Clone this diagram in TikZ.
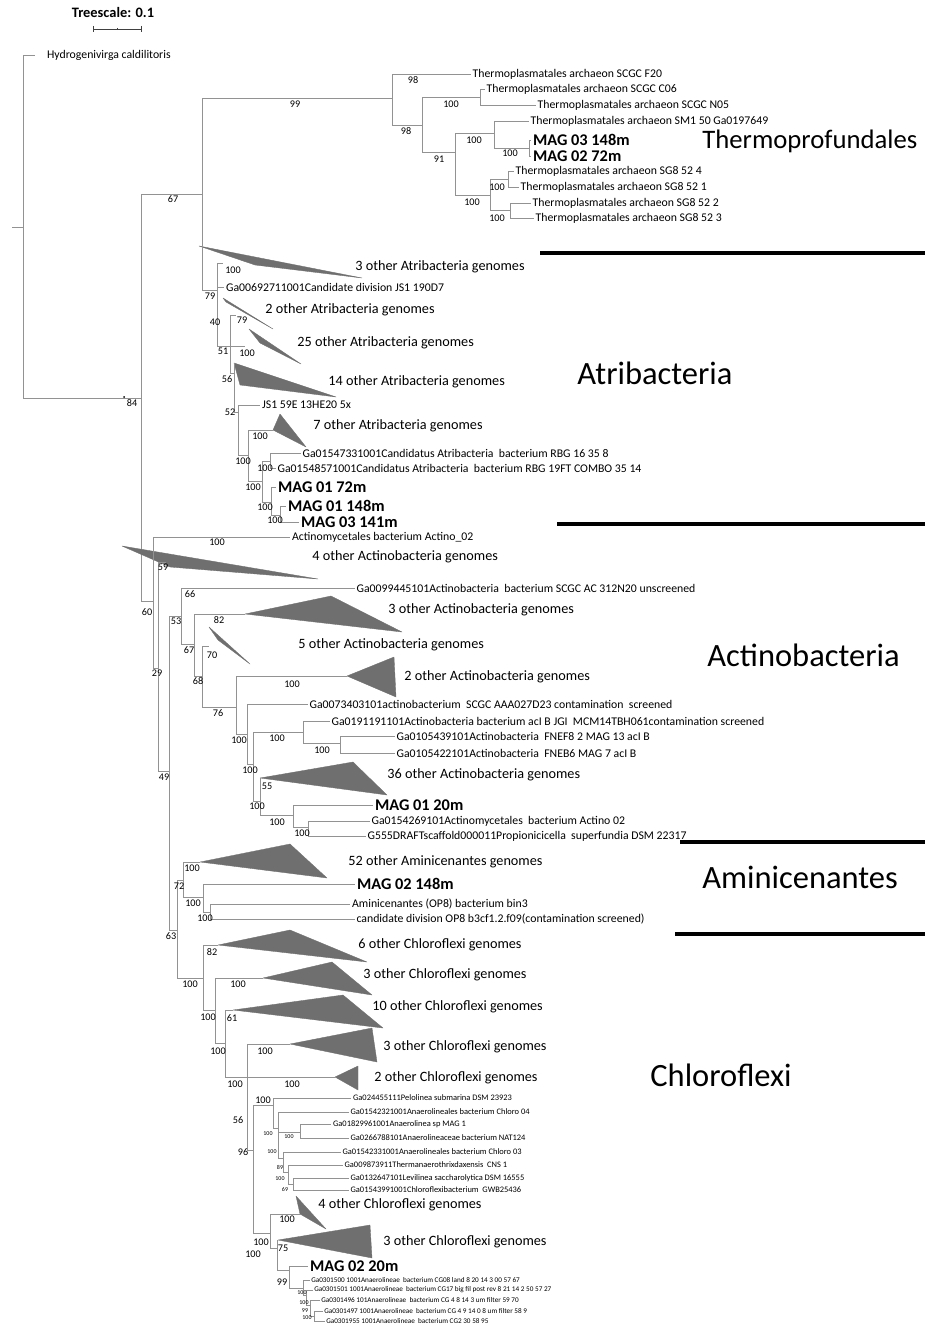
\documentclass[tikz,border=0pt]{standalone}
\usepackage{fontspec}
\setmainfont{Carlito}
\usetikzlibrary{positioning}
\definecolor{treeline}{HTML}{929292}
\definecolor{cladefill}{HTML}{6F6F6F}
\begin{document}
\begin{tikzpicture}[
    x=0.02cm, y=-0.02cm,
    branch/.style={draw=treeline, line width=0.45pt},
    clade/.style={fill=cladefill, draw=cladefill, line width=0.2pt, line join=round},
    boot/.style={font=\fontsize{5.8}{6}\selectfont, inner sep=0pt},
    tboot/.style={font=\fontsize{3.4}{4}\selectfont, inner sep=0pt},
    leaf/.style={anchor=west, inner sep=1pt, font=\fontsize{6.7}{7}\selectfont},
    sleaf/.style={anchor=west, inner sep=1pt, font=\fontsize{4.8}{5}\selectfont},
    tleaf/.style={anchor=west, inner sep=0.8pt, font=\fontsize{4.1}{5}\selectfont},
    mag/.style={anchor=west, inner sep=1pt, font=\fontsize{9.3}{10}\selectfont\bfseries},
    grp/.style={anchor=west, inner sep=0pt, font=\fontsize{8.1}{9}\selectfont},
    phylum/.style={anchor=west, inner sep=0pt, font=\fontsize{18.5}{19}\selectfont},
    sepbar/.style={line width=2.4pt, black}
]
\useasboundingbox (0,0) rectangle (925,1327);

% Tree scale
\node[font=\fontsize{8.2}{9}\selectfont\bfseries, inner sep=0pt] (tscale) at (113,13) {Treescale: 0.1};
\draw[black!75, line width=0.5pt] (93,29) -- (141,29);
\foreach \tx in {93,141} {
    \draw[black!75, line width=0.5pt] (\tx,26) -- (\tx,32);
}
\draw[black!75, line width=0.4pt] (117,28) -- (117,30);

% Root and outgroup
\coordinate (root) at (23,227);
\coordinate (rootstub) at (12,227);
\coordinate (hydro) at (35,55);
\node[leaf] (tHydro) at (45,55) {Hydrogenivirga caldilitoris};
\draw[branch] (rootstub) -- (root);
\draw[branch] (root) |- (hydro);
\coordinate (n84) at (141,398);
\draw[branch] (root) |- (n84);
\fill (124,397) circle (1);

% Main spine
\coordinate (n67) at (202,194);
\coordinate (n60) at (153,601);
\draw[branch] (n84) |- (n67);
\draw[branch] (n84) |- (n60);

% Thermoprofundales
\coordinate (n99) at (392,98);
\coordinate (n98) at (422,125);
\coordinate (nC) at (480,97);
\coordinate (n91) at (455,152);
\coordinate (nE) at (494,133);
\coordinate (nG) at (529,148);
\coordinate (nH) at (490,195);
\coordinate (nI) at (508,179);
\coordinate (nJ) at (510,210);
\node[leaf] (tF20) at (470.5,74) {Thermoplasmatales archaeon SCGC F20};
\node[leaf] (tC06) at (484.5,89) {Thermoplasmatales archaeon SCGC C06};
\node[leaf] (tN05) at (535.5,105) {Thermoplasmatales archaeon SCGC N05};
\node[leaf] (tSM1) at (528.5,121) {Thermoplasmatales archaeon SM1 50 Ga0197649};
\node[mag] (tM03148) at (531,140) {MAG 03 148m};
\node[mag] (tM0272) at (531,156) {MAG 02 72m};
\node[leaf] (t524) at (513.5,171) {Thermoplasmatales archaeon SG8 52 4};
\node[leaf] (t521) at (518.5,187) {Thermoplasmatales archaeon SG8 52 1};
\node[leaf] (t522) at (530.5,203) {Thermoplasmatales archaeon SG8 52 2};
\node[leaf] (t523) at (533.5,218) {Thermoplasmatales archaeon SG8 52 3};
\draw[branch] (n67) |- (n99);
\draw[branch] (n99) |- (tF20.west);
\draw[branch] (n99) |- (n98);
\draw[branch] (n98) |- (nC);
\draw[branch] (nC) |- (tC06.west);
\draw[branch] (nC) |- (tN05.west);
\draw[branch] (n98) |- (n91);
\draw[branch] (n91) |- (nE);
\draw[branch] (nE) |- (tSM1.west);
\draw[branch] (nE) |- (nG);
\draw[branch] (nG) |- (tM03148.west);
\draw[branch] (nG) |- (tM0272.west);
\draw[branch] (n91) |- (nH);
\draw[branch] (nH) |- (nI);
\draw[branch] (nI) |- (t524.west);
\draw[branch] (nI) |- (t521.west);
\draw[branch] (nH) |- (nJ);
\draw[branch] (nJ) |- (t522.west);
\draw[branch] (nJ) |- (t523.west);
\foreach \bx/\by/\bv [count=\i] in {413/80/98, 295/104/99, 406/131/98, 451/104/100,
    439/159/91, 474/140/100, 510/153/100, 472/202/100, 497/187/100, 497/218/100, 173/199/67} {
    \node[boot] (bt\i) at (\bx,\by) {\bv};
}

% Atribacteria
\coordinate (n79a) at (217,290);
\coordinate (s100) at (223,263);
\coordinate (n51) at (230,346);
\coordinate (s79) at (236,315);
\coordinate (c25) at (245,346);
\coordinate (n56) at (234,373);
\coordinate (a14) at (234,363);
\coordinate (n52) at (238,412);
\coordinate (n100x) at (248,455);
\coordinate (a7) at (273,430);
\coordinate (n100y) at (262,481);
\coordinate (n100z) at (270,461);
\coordinate (n100w) at (271,502);
\coordinate (n100v) at (280,515);
\node[leaf] (tJS190) at (224,287) {Ga00692711001Candidate division JS1 190D7};
\node[leaf] (tJS1) at (260,405) {JS1 59E 13HE20 5x};
\node[leaf] (tG1547) at (300.5,453) {Ga01547331001Candidatus Atribacteria\ \ bacterium RBG 16 35 8};
\node[leaf] (tG1548) at (275.5,468) {Ga01548571001Candidatus Atribacteria\ \ bacterium RBG 19FT COMBO 35 14};
\node[mag] (tM0172) at (276,487) {MAG 01 72m};
\node[mag] (tM01148) at (286,506) {MAG 01 148m};
\node[mag] (tM03141) at (299,522) {MAG 03 141m};
\fill[clade] (199,246) -- (362,278) -- (255,265) -- cycle;
\fill[clade] (223,298) -- (273,329) -- (226,302) -- cycle;
\fill[clade] (249,329) -- (301,364) -- (260,343) -- cycle;
\fill[clade] (a14) -- (336,397) -- (240,385) -- cycle;
\fill[clade] (a7) -- (280,414) -- (306,447) -- cycle;
\node[grp] (gA3) at (355,267) {3 other Atribacteria genomes};
\node[grp] (gA2) at (265,310) {2 other Atribacteria genomes};
\node[grp] (gA25) at (297,343) {25 other Atribacteria genomes};
\node[grp] (gA14) at (328,382) {14 other Atribacteria genomes};
\node[grp] (gA7) at (313,426) {7 other Atribacteria genomes};
\draw[branch] (n67) |- (n79a);
\draw[branch] (n79a) |- (s100);
\draw[branch] (n79a) |- (tJS190.west);
\draw[branch] (n79a) |- (n51);
\draw[branch] (n51) |- (s79);
\draw[branch] (n51) -- (c25);
\draw[branch] (n51) |- (n56);
\draw[branch] (n56) |- (a14);
\draw[branch] (n56) |- (n52);
\draw[branch] (n52) |- (tJS1.west);
\draw[branch] (n52) |- (n100x);
\draw[branch] (n100x) |- (a7);
\draw[branch] (n100x) |- (n100y);
\draw[branch] (n100y) |- (n100z);
\draw[branch] (n100z) |- (tG1547.west);
\draw[branch] (n100z) |- (tG1548.west);
\draw[branch] (n100y) |- (n100w);
\draw[branch] (n100w) |- (tM0172.west);
\draw[branch] (n100w) |- (n100v);
\draw[branch] (n100v) |- (tM01148.west);
\draw[branch] (n100v) |- (tM03141.west);
\foreach \bx/\by/\bv [count=\i] in {233/270/100, 210/296/79, 215/322/40, 242/320/79,
    223/351/51, 247/353/100, 227/379/56, 230/412/52, 260/436/100, 243/461/100,
    265/468/100, 253/487/100, 265/507/100, 275/520/100, 132/403/84} {
    \node[boot] (ba\i) at (\bx,\by) {\bv};
}

% Actinobacteria
\coordinate (n29) at (158,668);
\coordinate (s59) at (166,562);
\coordinate (n49) at (169,771);
\coordinate (n53) at (181,616);
\coordinate (n67b) at (194,644);
\coordinate (a82) at (245,614);
\coordinate (n68) at (202,676);
\coordinate (a70) at (209,646);
\coordinate (n76) at (236,707);
\coordinate (a2) at (347,676);
\coordinate (n100a) at (247,734);
\coordinate (n100b) at (253,764);
\coordinate (n100c) at (303,732);
\coordinate (n100e) at (340,743);
\coordinate (n100d) at (260,801);
\coordinate (a36) at (260,778);
\coordinate (n100f) at (293,815);
\coordinate (n100g) at (308,827);
\node[leaf] (tA02) at (290,537) {Actinomycetales bacterium Actino\_02};
\node[leaf] (tG0099) at (354.5,588) {Ga0099445101Actinobacteria\ \ bacterium SCGC AC 312N20 unscreened};
\node[leaf] (tG0073) at (307.5,704) {Ga0073403101actinobacterium\ \ SCGC AAA027D23 contamination\ \ screened};
\node[leaf] (tG0191) at (329.5,721) {Ga0191191101Actinobacteria bacterium acI B JGI\ \ MCM14TBH061contamination screened};
\node[leaf] (tG0105a) at (394.5,736) {Ga0105439101Actinobacteria\ \ FNEF8 2 MAG 13 acI B};
\node[leaf] (tG0105b) at (394.5,753) {Ga0105422101Actinobacteria\ \ FNEB6 MAG 7 acI B};
\node[mag] (tM0120) at (373,805) {MAG 01 20m};
\node[leaf] (tG0154) at (369.5,821) {Ga0154269101Actinomycetales\ \ bacterium Actino 02};
\node[leaf] (tG555) at (365.5,836) {G555DRAFTscaffold000011Propionicicella\ \ superfundia DSM 22317};
\fill[clade] (122,546) -- (318,579) -- (170,567) -- cycle;
\fill[clade] (a82) -- (331,596) -- (402,632) -- cycle;
\fill[clade] (209,627) -- (250,664) -- (218,640) -- cycle;
\fill[clade] (a2) -- (394,657) -- (396,697) -- cycle;
\fill[clade] (a36) -- (353,762) -- (387,795) -- cycle;
\node[grp] (gB4) at (312,557) {4 other Actinobacteria genomes};
\node[grp] (gB3) at (388,610) {3 other Actinobacteria genomes};
\node[grp] (gB5) at (298,645) {5 other Actinobacteria genomes};
\node[grp] (gB2) at (404,677) {2 other Actinobacteria genomes};
\node[grp] (gB36) at (387,775) {36 other Actinobacteria genomes};
\draw[branch] (n60) |- (tA02.west);
\draw[branch] (n60) |- (n29);
\draw[branch] (n29) |- (s59);
\draw[branch] (n29) |- (n49);
\draw[branch] (n49) |- (n53);
\draw[branch] (n53) |- (tG0099.west);
\draw[branch] (n53) |- (n67b);
\draw[branch] (n67b) |- (a82);
\draw[branch] (n67b) |- (n68);
\draw[branch] (n68) |- (a70);
\draw[branch] (n68) |- (n76);
\draw[branch] (n76) |- (a2);
\draw[branch] (n76) |- (n100a);
\draw[branch] (n100a) |- (tG0073.west);
\draw[branch] (n100a) |- (n100b);
\draw[branch] (n100b) |- (n100c);
\draw[branch] (n100c) |- (tG0191.west);
\draw[branch] (n100c) |- (n100e);
\draw[branch] (n100e) |- (tG0105a.west);
\draw[branch] (n100e) |- (tG0105b.west);
\draw[branch] (n100b) |- (n100d);
\draw[branch] (n100d) |- (a36);
\draw[branch] (n100d) |- (n100f);
\draw[branch] (n100f) |- (tM0120.west);
\draw[branch] (n100f) |- (n100g);
\draw[branch] (n100g) |- (tG0154.west);
\draw[branch] (n100g) |- (tG555.west);
\foreach \bx/\by/\bv [count=\i] in {217/542/100, 163/567/59, 147/612/60, 190/594/66,
    176/621/53, 219/620/82, 189/650/67, 212/655/70, 157/673/29, 198/681/68,
    218/713/76, 292/684/100, 164/777/49, 239/740/100, 250/770/100, 277/738/100,
    322/750/100, 257/806/100, 267/786/55, 277/822/100, 302/833/100} {
    \node[boot] (bc\i) at (\bx,\by) {\bv};
}

% Aminicenantes
\coordinate (n63) at (177,930);
\coordinate (n72) at (183,880);
\coordinate (a52) at (200,862);
\coordinate (n100am) at (203,897);
\coordinate (n100op) at (210,912);
\node[mag] (tM02148) at (355,884) {MAG 02 148m};
\node[leaf] (tOP8bin) at (350,904) {Aminicenantes (OP8) bacterium bin3};
\node[leaf] (tOP8) at (354.5,919) {candidate division OP8 b3cf1.2.f09(contamination screened)};
\fill[clade] (a52) -- (290,844) -- (327,878) -- cycle;
\node[grp] (gC52) at (348,862) {52 other Aminicenantes genomes};
\draw[branch] (n49) |- (n63);
\draw[branch] (n63) |- (n72);
\draw[branch] (n72) |- (a52);
\draw[branch] (n72) |- (n100am);
\draw[branch] (n100am) |- (tM02148.west);
\draw[branch] (n100am) |- (n100op);
\draw[branch] (n100op) |- (tOP8bin.west);
\draw[branch] (n100op) |- (tOP8.west);
\foreach \bx/\by/\bv [count=\i] in {171/936/63, 179/886/72, 192/868/100, 193/903/100, 205/918/100} {
    \node[boot] (bd\i) at (\bx,\by) {\bv};
}

% Chloroflexi
\coordinate (n100c1) at (203,978);
\coordinate (a6) at (218,945);
\coordinate (n100c2) at (215,1010);
\coordinate (a3a) at (263,978);
\coordinate (n100c3) at (225,1043);
\coordinate (a10) at (233,1010);
\coordinate (n100c4) at (247,1077);
\coordinate (a3b) at (290,1044);
\coordinate (a2c) at (335,1077);
\coordinate (n96) at (253,1150);
\coordinate (n100p) at (273,1105);
\coordinate (nq) at (278,1128);
\coordinate (nr) at (300,1132);
\coordinate (ns) at (283,1158);
\coordinate (nt) at (288,1172);
\coordinate (nu) at (293,1184);
\coordinate (nbot) at (270,1233);
\coordinate (a4) at (300,1214);
\coordinate (n75) at (277,1248);
\coordinate (a3c) at (278,1240);
\coordinate (nm99) at (289,1270);
\coordinate (nb1) at (303,1288);
\coordinate (nb2) at (306,1295);
\coordinate (nb3) at (310,1305);
\coordinate (nb4) at (314,1316);
\node[sleaf] (tPel) at (351,1098) {Ga024455111Pelolinea submarina DSM 23923};
\node[sleaf] (tC04) at (348.5,1112) {Ga01542321001Anaerolineales bacterium Chloro 04};
\node[sleaf] (tMAG1) at (331,1124) {Ga01829961001Anaerolinea sp MAG 1};
\node[sleaf] (tNAT) at (348.5,1138) {Ga0266788101Anaerolineaceae bacterium NAT124};
\node[sleaf] (tC03) at (340.5,1152) {Ga01542331001Anaerolineales bacterium Chloro 03};
\node[sleaf] (tTherm) at (342.5,1165) {Ga009873911Thermanaerothrixdaxensis\ \ CNS 1};
\node[sleaf] (tLev) at (348.5,1178) {Ga0132647101Levilinea saccharolytica DSM 16555};
\node[sleaf] (tGWB) at (348.5,1190) {Ga01543991001Chloroflexibacterium\ \ GWB25436};
\node[mag] (tM0220) at (308,1266) {MAG 02 20m};
\node[tleaf] (tL1) at (309.5,1280) {Ga0301500 1001Anaerolineae\ \ bacterium CG08 land 8 20 14 3 00 57 67};
\node[tleaf] (tL2) at (312.5,1290) {Ga0301501 1001Anaerolineae\ \ bacterium CG17 big fil post rev 8 21 14 2 50 57 27};
\node[tleaf] (tL3) at (319.5,1300) {Ga0301496 101Anaerolineae\ \ bacterium CG 4 8 14 3 um filter 59 70};
\node[tleaf] (tL4) at (322.5,1311) {Ga0301497 1001Anaerolineae\ \ bacterium CG 4 9 14 0 8 um filter 58 9};
\node[tleaf] (tL5) at (324.5,1321) {Ga0301955 1001Anaerolineae\ \ bacterium CG2 30 58 95};
\fill[clade] (a6) -- (290,930) -- (367,962) -- cycle;
\fill[clade] (a3a) -- (332,962) -- (372,995) -- cycle;
\fill[clade] (a10) -- (343,995) -- (383,1028) -- cycle;
\fill[clade] (a3b) -- (372,1028) -- (377,1062) -- cycle;
\fill[clade] (a2c) -- (358,1066) -- (358,1090) -- cycle;
\fill[clade] (296,1196) -- (326,1229) -- (a4) -- cycle;
\fill[clade] (a3c) -- (370,1225) -- (372,1258) -- cycle;
\node[grp] (gD6) at (358,945) {6 other Chloroflexi genomes};
\node[grp] (gD3a) at (363,975) {3 other Chloroflexi genomes};
\node[grp] (gD10) at (372,1007) {10 other Chloroflexi genomes};
\node[grp] (gD3b) at (383,1047) {3 other Chloroflexi genomes};
\node[grp] (gD2) at (374,1078) {2 other Chloroflexi genomes};
\node[grp] (gD4) at (318,1205) {4 other Chloroflexi genomes};
\node[grp] (gD3c) at (383,1242) {3 other Chloroflexi genomes};
\draw[branch] (n63) |- (n100c1);
\draw[branch] (n100c1) |- (a6);
\draw[branch] (n100c1) |- (n100c2);
\draw[branch] (n100c2) |- (a3a);
\draw[branch] (n100c2) |- (n100c3);
\draw[branch] (n100c3) |- (a10);
\draw[branch] (n100c3) |- (n100c4);
\draw[branch] (n100c4) |- (a3b);
\draw[branch] (n100c4) |- (a2c);
\draw[branch] (n100c4) |- (n96);
\draw[branch] (n96) |- (n100p);
\draw[branch] (n100p) |- (tPel.west);
\draw[branch] (n100p) |- (nq);
\draw[branch] (nq) |- (tC04.west);
\draw[branch] (nq) |- (nr);
\draw[branch] (nr) |- (tMAG1.west);
\draw[branch] (nr) |- (tNAT.west);
\draw[branch] (nq) |- (ns);
\draw[branch] (ns) |- (tC03.west);
\draw[branch] (ns) |- (nt);
\draw[branch] (nt) |- (tTherm.west);
\draw[branch] (nt) |- (nu);
\draw[branch] (nu) |- (tLev.west);
\draw[branch] (nu) |- (tGWB.west);
\draw[branch] (n96) |- (nbot);
\draw[branch] (nbot) |- (a4);
\draw[branch] (nbot) |- (n75);
\draw[branch] (n75) |- (a3c);
\draw[branch] (n75) |- (nm99);
\draw[branch] (nm99) |- (tM0220.west);
\draw[branch] (nm99) |- (nb1);
\draw[branch] (nb1) |- (tL1.west);
\draw[branch] (nb1) |- (nb2);
\draw[branch] (nb2) |- (tL2.west);
\draw[branch] (nb2) |- (nb3);
\draw[branch] (nb3) |- (tL3.west);
\draw[branch] (nb3) |- (nb4);
\draw[branch] (nb4) |- (tL4.west);
\draw[branch] (nb4) |- (tL5.west);
\foreach \bx/\by/\bv [count=\i] in {190/984/100, 212/952/82, 208/1017/100, 238/984/100,
    218/1051/100, 232/1018/61, 235/1084/100, 265/1051/100, 292/1084/100, 238/1120/56,
    243/1152/96, 263/1100/100, 287/1219/100, 261/1242/100, 253/1254/100, 283/1248/75,
    282/1282/99} {
    \node[boot] (be\i) at (\bx,\by) {\bv};
}
\foreach \bx/\by/\bv [count=\i] in {268/1134/100, 289/1137/100, 272/1152/100, 280/1167/89,
    280/1179/100, 285/1189/69, 302/1293/100, 304/1303/100, 305/1311/99, 307/1318/100} {
    \node[tboot] (bf\i) at (\bx,\by) {\bv};
}

% Clade names and separators
\node[phylum, font=\fontsize{15.2}{16}\selectfont] (pThermo) at (702,141) {Thermoprofundales};
\node[phylum] (pAtri) at (577,373) {Atribacteria};
\node[phylum] (pActino) at (707,655) {Actinobacteria};
\node[phylum] (pAmini) at (702,877) {Aminicenantes};
\node[phylum] (pChloro) at (650,1075) {Chloroflexi};
\foreach \sx/\sy in {540/253, 557/524, 680/842, 675/934} {
    \draw[sepbar] (\sx,\sy) -- (925,\sy);
}

\end{tikzpicture}
\end{document}
